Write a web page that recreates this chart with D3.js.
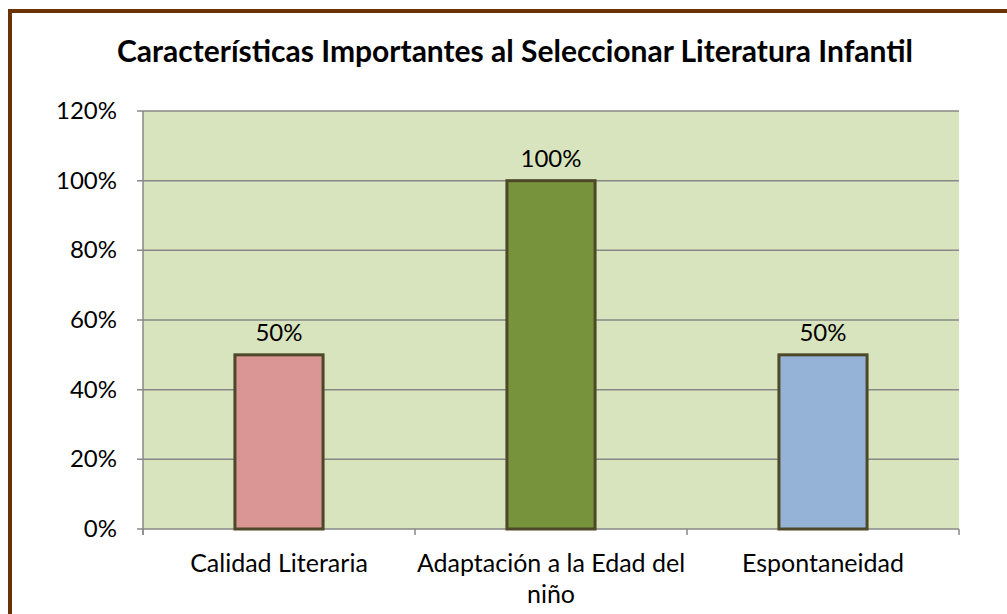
<!DOCTYPE html>
<html>
<head>
<meta charset="utf-8">
<script src="https://cdn.jsdelivr.net/npm/d3@7"></script>
<style>
  body { margin: 0; background: #fff; }
  text { font-family: "Lato", "Open Sans", sans-serif; fill: #000; }
</style>
</head>
<body>
<svg id="chart" width="1007" height="614"></svg>
<script>
// datos
const categories = ["Calidad Literaria", "Adaptación a la Edad del niño", "Espontaneidad"];
const values = [0.5, 1.0, 0.5];
const barColors = ["#d99694", "#77933c", "#95b3d7"];
const yTicks = [0, 0.2, 0.4, 0.6, 0.8, 1.0, 1.2];
const title = "Características Importantes al Seleccionar Literatura Infantil";

const svg = d3.select("#chart");
const plot = { left: 143, right: 959, top: 111, bottom: 529 };

// marco marrón
svg.append("rect")
    .attr("x", 10).attr("y", 11)
    .attr("width", 1040).attr("height", 700)
    .attr("fill", "none")
    .attr("stroke", "#6b3304")
    .attr("stroke-width", 4);

svg.append("text")
    .attr("x", 515).attr("y", 62)
    .attr("text-anchor", "middle")
    .attr("font-size", 30)
    .attr("font-weight", "bold")
    .text(title);

const x = d3.scaleBand().domain(categories).range([plot.left, plot.right]);
const y = d3.scaleLinear().domain([0, 1.2]).range([plot.bottom, plot.top]);

svg.append("rect")
    .attr("x", plot.left).attr("y", plot.top)
    .attr("width", plot.right - plot.left).attr("height", plot.bottom - plot.top)
    .attr("fill", "#d7e4bd");

// líneas de cuadrícula
svg.append("g").selectAll("line")
    .data(yTicks)
    .join("line")
    .attr("x1", plot.left - 6).attr("x2", plot.right)
    .attr("y1", d => y(d)).attr("y2", d => y(d))
    .attr("stroke", "#888").attr("stroke-width", 1.5);

// eje Y
svg.append("line")
    .attr("x1", plot.left).attr("x2", plot.left)
    .attr("y1", plot.top).attr("y2", plot.bottom + 6)
    .attr("stroke", "#888").attr("stroke-width", 1.5);

svg.append("g").selectAll("text")
    .data(yTicks)
    .join("text")
    .attr("x", plot.left - 26)
    .attr("y", d => y(d) + 8)
    .attr("text-anchor", "end")
    .attr("font-size", 24)
    .text(d3.format(".0%"));

// marcas del eje X
const xBounds = categories.map(c => x(c)).concat([plot.right]);
svg.append("g").selectAll("line")
    .data(xBounds)
    .join("line")
    .attr("x1", d => d).attr("x2", d => d)
    .attr("y1", plot.bottom).attr("y2", plot.bottom + 6)
    .attr("stroke", "#888").attr("stroke-width", 1.5);

// barras
const bw = x.bandwidth() * 0.324;
svg.append("g").selectAll("rect")
    .data(categories)
    .join("rect")
    .attr("x", d => x(d) + x.bandwidth() / 2 - bw / 2)
    .attr("y", (d, i) => y(values[i]))
    .attr("width", bw)
    .attr("height", (d, i) => plot.bottom - y(values[i]))
    .attr("fill", (d, i) => barColors[i])
    .attr("stroke", "#4d4828")
    .attr("stroke-width", 3);

// etiquetas de datos
svg.append("g").selectAll("text")
    .data(categories)
    .join("text")
    .attr("x", d => x(d) + x.bandwidth() / 2)
    .attr("y", (d, i) => y(values[i]) - 14)
    .attr("text-anchor", "middle")
    .attr("font-size", 24)
    .text((d, i) => d3.format(".0%")(values[i]));

// etiquetas de categoría (con salto de línea)
const catLines = [["Calidad Literaria"], ["Adaptación a la Edad del", "niño"], ["Espontaneidad"]];
svg.append("g").selectAll("text")
    .data(categories)
    .join("text")
    .attr("x", d => x(d) + x.bandwidth() / 2)
    .attr("y", 572)
    .attr("text-anchor", "middle")
    .attr("font-size", 25)
    .each(function(d, i) {
        d3.select(this).selectAll("tspan")
            .data(catLines[i])
            .join("tspan")
            .attr("x", x(d) + x.bandwidth() / 2)
            .attr("dy", (t, j) => j === 0 ? 0 : 31)
            .text(t => t);
    });
</script>
</body>
</html>
